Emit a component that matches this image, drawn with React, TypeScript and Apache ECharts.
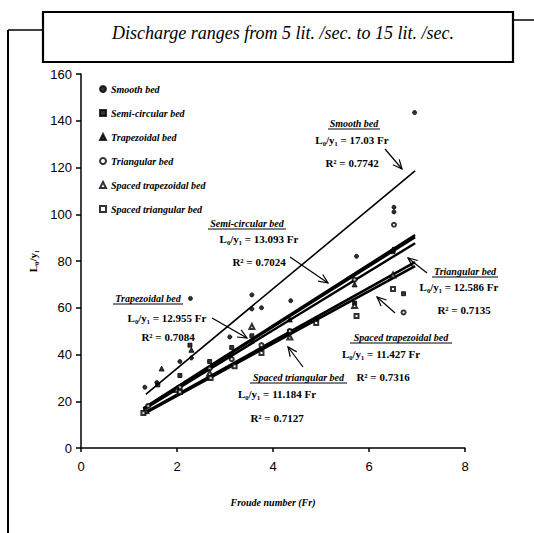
import React, { useEffect, useRef } from "react";
import * as echarts from "echarts";

const seriesNames = [
  "Smooth bed",
  "Semi-circular bed",
  "Trapezoidal bed",
  "Triangular bed",
  "Spaced trapezoidal bed",
  "Spaced triangular bed",
];
const seriesSymbols = ["circle", "rect", "triangle", "emptyCircle", "emptyTriangle", "emptyRect"];
const seriesSizes = [4, 4, 5, 4, 5, 4];

const smoothBed = [
  [1.33, 26], [1.58, 28], [2.06, 37], [2.28, 64], [2.3, 38.5], [3.1, 47.5],
  [3.56, 65.5], [3.56, 59.5], [3.76, 60], [4.37, 63], [5.74, 82], [6.52, 103],
  [6.52, 101], [6.95, 143.5],
];
const semiCircularBed = [
  [1.6, 27], [2.06, 31], [2.27, 44], [2.68, 37], [3.14, 43], [3.56, 48],
  [4.35, 50], [4.9, 55], [5.7, 62], [6.72, 66], [6.5, 84],
];
const trapezoidalBed = [
  [1.68, 34], [2.3, 42], [3.1, 40], [3.56, 46], [4.35, 55], [5.7, 70], [6.5, 85],
];
const triangularBed = [
  [1.4, 18], [2.06, 26], [2.68, 34], [3.14, 38], [3.76, 44], [4.35, 50],
  [5.7, 72], [6.52, 95.5], [6.72, 58],
];
const spacedTrapezoidalBed = [
  [1.35, 16], [2.0, 25], [2.68, 32], [3.56, 52], [4.35, 47.5], [5.7, 61], [6.5, 74],
];
const spacedTriangularBed = [
  [1.3, 15], [2.06, 24], [2.7, 30], [3.2, 35], [3.76, 40.6], [4.9, 53.5],
  [5.74, 56.5], [6.5, 68],
];
const seriesData = [
  smoothBed, semiCircularBed, trapezoidalBed, triangularBed, spacedTrapezoidalBed, spacedTriangularBed,
];

const slopes = [17.03, 13.093, 12.955, 12.586, 11.427, 11.184];
const r2Values = ["0.7742", "0.7024", "0.7084", "0.7135", "0.7316", "0.7127"];
const fitStart = [1.35, 1.3, 1.3, 1.3, 1.3, 1.3];
const fitEnd = [6.96, 6.96, 6.96, 6.96, 6.96, 6.96];
const fitWidths = [1.6, 2.4, 2.4, 2.4, 2.6, 2.6];

const xTicks = [0, 8, 2];
const yTicks = [0, 160, 20];

const titleText = "Discharge ranges from 5 lit. /sec. to 15 lit. /sec.";

// annotation layout: [headerX1, headerX2, headerY, eqX, eqY, r2X, r2Y, arrowX1, arrowY1, arrowX2, arrowY2]
const annotLayout = [
  [328, 380, 123, 352, 140, 352, 163, 385, 149, 402, 169],
  [208, 286, 223, 259, 239, 259, 262, 290, 257, 328, 283],
  [113, 183, 298, 167, 318, 168, 337, 212, 318, 247, 338],
  [432, 498, 271, 459, 287, 464, 310, 427, 273, 408, 258],
  [350, 452, 337, 381, 354, 383, 377, 395, 313, 377, 297],
  [250, 347, 377, 277, 394, 277, 418, 303, 367, 288, 347],
];

const serif = "'Liberation Serif', 'Times New Roman', serif";
const narrow = "'Liberation Sans Narrow', 'Liberation Sans', Arial, sans-serif";

function arrow(x1: number, y1: number, x2: number, y2: number) {
  const a = Math.atan2(y2 - y1, x2 - x1);
  const L = 10;
  const w = 0.42;
  return [
    { type: "line", shape: { x1, y1, x2, y2 }, style: { stroke: "#000", lineWidth: 1.2 } },
    {
      type: "polyline",
      shape: {
        points: [
          [x2 - L * Math.cos(a - w), y2 - L * Math.sin(a - w)],
          [x2, y2],
          [x2 - L * Math.cos(a + w), y2 - L * Math.sin(a + w)],
        ],
      },
      style: { stroke: "#000", lineWidth: 1.2, fill: null },
    },
  ];
}

export default function App() {
  const ref = useRef<HTMLDivElement>(null);
  useEffect(() => {
    if (!ref.current) return;
    const chart = echarts.init(ref.current, null, { renderer: "svg" });

    const scatterSeries = seriesNames.map((name, i) => ({
      name,
      type: "scatter",
      data: seriesData[i],
      symbol: seriesSymbols[i],
      symbolSize: seriesSizes[i],
      itemStyle: { color: "#000", borderColor: "#000", borderWidth: 1 },
      z: 3,
    }));
    const fitSeries = slopes.map((s, i) => ({
      name: "fit " + seriesNames[i],
      type: "line",
      data: [
        [fitStart[i], s * fitStart[i]],
        [fitEnd[i], s * fitEnd[i]],
      ],
      symbol: "none",
      silent: true,
      lineStyle: { color: "#000", width: fitWidths[i] },
      z: 2,
    }));

    const graphics: any[] = [
      { type: "line", shape: { x1: 8, y1: 30, x2: 8, y2: 533 }, style: { stroke: "#000", lineWidth: 2 } },
      { type: "line", shape: { x1: 8, y1: 30, x2: 43, y2: 30 }, style: { stroke: "#000", lineWidth: 1.5 } },
      { type: "line", shape: { x1: 513, y1: 20, x2: 534, y2: 20 }, style: { stroke: "#000", lineWidth: 1.5 } },
      {
        type: "rect",
        shape: { x: 43, y: 12, width: 470, height: 50 },
        style: { fill: "#fff", stroke: "#000", lineWidth: 2.2 },
      },
      {
        type: "text",
        x: 283,
        y: 33,
        style: {
          text: titleText,
          font: `italic 18px ${serif}`,
          fill: "#000",
          textAlign: "center",
          textVerticalAlign: "middle",
        },
      },
    ];

    annotLayout.forEach((L, i) => {
      const [hx1, hx2, hy, ex, ey, rx, ry, ax1, ay1, ax2, ay2] = L;
      graphics.push({
        type: "text",
        x: (hx1 + hx2) / 2,
        y: hy,
        style: {
          text: seriesNames[i],
          font: `italic bold 10px ${serif}`,
          fill: "#000",
          textAlign: "center",
          textVerticalAlign: "middle",
        },
      });
      graphics.push({
        type: "line",
        shape: { x1: hx1, y1: hy + 6, x2: hx2, y2: hy + 6 },
        style: { stroke: "#000", lineWidth: 1 },
      });
      graphics.push({
        type: "text",
        x: ex,
        y: ey,
        style: {
          text: "L₀/y₁ = " + slopes[i] + " Fr",
          font: `bold 11px ${serif}`,
          fill: "#000",
          textAlign: "center",
          textVerticalAlign: "middle",
        },
      });
      graphics.push({
        type: "text",
        x: rx,
        y: ry,
        style: {
          text: "R² = " + r2Values[i],
          font: `bold 11px ${serif}`,
          fill: "#000",
          textAlign: "center",
          textVerticalAlign: "middle",
        },
      });
      graphics.push(...arrow(ax1, ay1, ax2, ay2));
    });

    chart.setOption({
      animation: false,
      backgroundColor: "#fff",
      grid: { left: 81, right: 69, top: 74, bottom: 85 },
      legend: {
        data: seriesNames,
        orient: "vertical",
        left: 94,
        top: 78,
        itemWidth: 6,
        itemHeight: 6,
        itemGap: 12,
        textStyle: {
          fontFamily: serif,
          fontStyle: "italic",
          fontWeight: "bold",
          fontSize: 10,
          lineHeight: 12,
          color: "#000",
        },
      },
      xAxis: {
        type: "value",
        min: xTicks[0],
        max: xTicks[1],
        interval: xTicks[2],
        name: "Froude number (Fr)",
        nameLocation: "middle",
        nameGap: 49,
        nameTextStyle: { fontFamily: serif, fontStyle: "italic", fontWeight: "bold", fontSize: 10, color: "#000" },
        axisLine: { lineStyle: { color: "#000", width: 1.5 } },
        axisTick: { inside: false, length: 4, lineStyle: { color: "#000", width: 1.5 } },
        axisLabel: { fontFamily: narrow, fontSize: 13, color: "#000", margin: 12 },
        splitLine: { show: false },
      },
      yAxis: {
        type: "value",
        min: yTicks[0],
        max: yTicks[1],
        interval: yTicks[2],
        name: "L₀/y₁",
        nameLocation: "middle",
        nameGap: 43,
        nameRotate: 90,
        nameTextStyle: { fontFamily: serif, fontWeight: "bold", fontSize: 11, color: "#000" },
        axisLine: { show: true, lineStyle: { color: "#000", width: 1.5 } },
        axisTick: { show: true, length: 5, lineStyle: { color: "#000", width: 1.5 } },
        axisLabel: { fontFamily: narrow, fontSize: 13, color: "#000", margin: 9 },
        splitLine: { show: false },
      },
      graphic: graphics,
      series: [...fitSeries, ...scatterSeries],
    });
    return () => chart.dispose();
  }, []);
  return (
    <div
      ref={ref}
      style={{ position: "fixed", left: 0, top: 0, width: 534, height: 533, background: "#fff" }}
    />
  );
}
